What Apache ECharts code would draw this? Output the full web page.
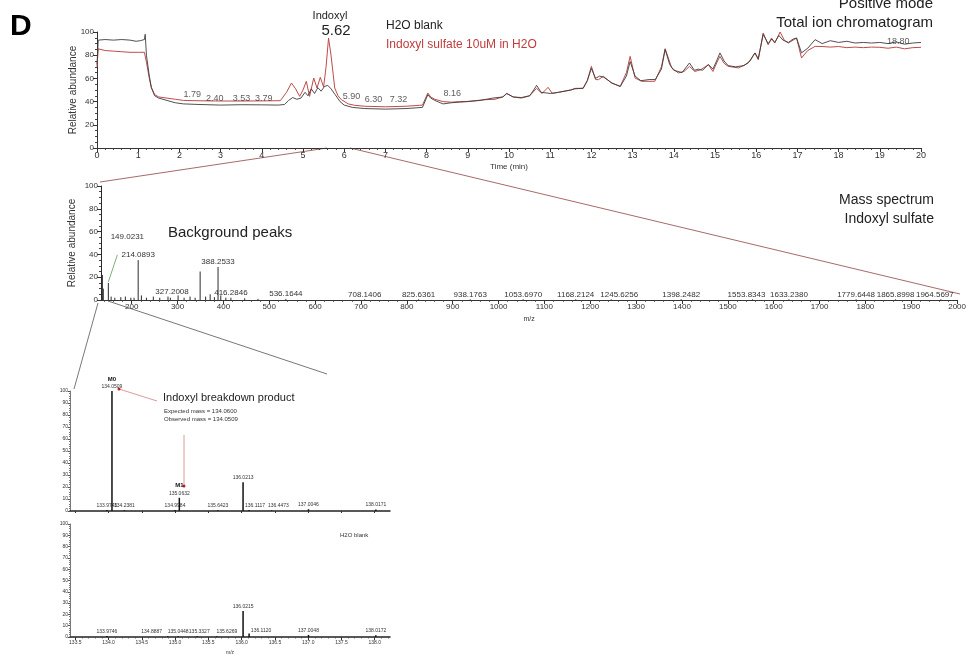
<!DOCTYPE html>
<html>
<head>
<meta charset="utf-8">
<script src="https://cdn.jsdelivr.net/npm/echarts@6/dist/echarts.min.js"></script>
<style>
  html, body { margin: 0; padding: 0; background: #fff; }
  #chart { width: 969px; height: 656px; }
</style>
</head>
<body>
<div id="chart"></div>
<script>
// ---- Total ion chromatogram: retention time (min) and relative abundance (%) ----
const blankTime = [0.00,0.03,0.20,0.40,0.60,0.80,0.95,1.05,1.15,1.17,
  1.20,1.27,1.32,1.40,1.50,1.70,1.90,2.10,2.50,3.00,
  3.50,4.00,4.40,4.55,4.65,4.75,4.85,4.95,5.05,5.12,
  5.20,5.28,5.36,5.44,5.52,5.60,5.68,5.78,5.90,6.00,
  6.20,6.50,7.00,7.50,7.90,8.03,8.10,8.20,8.40,8.60,
  8.80,9.00,9.30,9.60,9.85,9.95,10.10,10.30,10.50,10.60,
  10.67,10.78,10.90,11.00,11.20,11.50,11.60,11.80,11.90,12.00,
  12.10,12.20,12.30,12.50,12.70,12.85,12.94,13.06,13.20,13.40,
  13.55,13.70,13.79,13.90,14.00,14.10,14.20,14.38,14.50,14.60,
  14.70,14.84,14.95,15.05,15.12,15.22,15.32,15.50,15.70,15.85,
  15.97,16.05,16.17,16.29,16.38,16.45,16.55,16.65,16.78,16.90,
  16.98,17.10,17.25,17.43,17.60,17.80,18.00,18.20,18.40,18.60,
  18.80,19.00,19.20,19.40,19.60,19.80,20.00];
const blankTIC = [72,93,93.5,93,93.5,93,92,92.5,93.5,98,
  80,62,52,45,43,41,39,38,37.5,37,
  37.3,37.2,37,37.5,41,43.5,42,43,48,45,
  51,47,52,49,53,54,51,46,40,37,
  35,34,33.5,34,35,46,43,41,38,39,
  39.5,40,41,43,44,47,44,43.5,45,50,
  54,48,47.5,47,48,50,51,51.5,58,68.7,
  60,62,61,56,53,62,74.5,62,58,59,
  59,68,85,72,67,66,65,73.3,67,68,
  67,72,68,76,82,75,71,70,71,75,
  82,77,98,90,94,91,97,93,91,94,
  94.8,82,86,93.4,90,92.5,91,92,90.5,91,
  90.5,91,90,91.5,89.5,90.5,91];

const sampleTime = [0.00,0.03,0.20,0.40,0.60,0.80,1.00,1.15,1.20,1.27,
  1.32,1.40,1.50,1.70,1.90,2.10,2.50,3.00,3.50,4.00,
  4.45,4.60,4.72,4.82,4.92,5.00,5.08,5.16,5.26,5.34,
  5.42,5.50,5.56,5.62,5.68,5.77,5.85,5.93,6.10,6.25,
  6.50,7.00,7.50,7.90,8.03,8.10,8.20,8.40,8.60,8.80,
  9.00,9.40,9.66,9.85,9.94,10.10,10.30,10.50,10.67,10.80,
  10.95,11.05,11.20,11.50,11.60,11.80,11.90,12.00,12.10,12.17,
  12.29,12.49,12.70,12.85,12.94,13.06,13.22,13.54,13.70,13.79,
  13.95,14.11,14.25,14.38,14.51,14.65,14.84,14.95,15.05,15.12,
  15.22,15.32,15.57,15.80,15.97,16.05,16.17,16.29,16.37,16.45,
  16.58,16.68,16.78,16.98,17.10,17.25,17.43,17.60,17.80,18.00,
  18.20,18.40,18.60,18.80,19.00,19.20,19.40,19.60,19.80,20.00];
const sampleTIC = [70,85.5,84,83.5,83,82.5,82.5,82.5,74,60,
  52,46,44,43,42,41,40.7,40.5,40.5,40.6,
  40.8,48,56,51,44.5,50,57.5,44.5,60.3,51.7,
  60.9,52.6,70,94.8,80,51.7,45,41.7,38,36.8,
  36,35.5,36,37,47.4,44,42,40,39.5,40,
  40.2,41.6,42,44,47,44,43,45,51.4,47,
  52.3,47,48,50,51.4,51.5,58,70.4,59,58.9,
  61.8,56,53.2,65,79,60.3,57.5,57.5,70,85.6,
  69,64.7,66,70.4,66,67.4,71.8,66,74,79,
  73,70.4,69,73,81.9,76.1,99.1,89,94.8,90.5,
  100,93,90.5,94.8,77.6,84,87.6,87.5,87,87.5,
  86.5,87,86.5,87,86.8,86,87,85.5,86.5,86.8];

// retention-time annotations and where they sit on the trace (time, abundance)
const rtLabels = ['1.79','2.40','3.53','3.79','5.90','6.30','7.32','8.16','18.80'];
const rtLabelTime = [2.31, 2.86, 3.51, 4.05, 6.18, 6.71, 7.32, 8.62, 19.45];
const rtLabelAbund = [46, 43, 43, 43, 44.5, 41.7, 41.7, 46.8, 92];

// ---- Full-scan mass spectrum of indoxyl sulfate ----
const msMz = [134.0509,136.0213,138.0,149.0231,155.1,163.1,176.2,186.1,198.1,205.1,
  214.0893,221.1,232.1,247.1,261.1,279.1,284.2,301.1,314.2,327.2008,
  338.3,349.2,361.2,371.1,380.3,388.2533,394.2,405.2,416.2846,446.3,
  475.3,536.1644,708.1406,825.6361,938.1763,1053.6970,1168.2124,1245.6256,1398.2482,1553.8343,
  1633.2380,1779.6448,1865.8998,1964.5697];
const msAbund = [100,22,10,15,3,2,2.5,3,2,2,
  35,4,2,3,2,3,2,4,2,3,
  2,25,3,5,2.5,29,4,2,2,1.5,
  1,1,0.6,0.6,0.6,0.6,0.6,0.6,0.6,0.6,
  0.6,0.6,0.6,0.6];
const msLabeled = ['149.0231','214.0893','327.2008','388.2533','416.2846','536.1644','708.1406',
  '825.6361','938.1763','1053.6970','1168.2124','1245.6256','1398.2482','1553.8343',
  '1633.2380','1779.6448','1865.8998','1964.5697'];

// ---- Zoomed spectra around m/z 134 ----
const sampleMz = [133.9745,134.0509,134.2381,134.9984,135.0632,135.6423,136.0213,136.1117,136.4473,137.0046,138.0171];
const sampleAbund = [0.8,100,0.6,0.8,11,0.7,24,0.9,0.5,1.5,1.2];
const sampleIsotope = {'134.0509': 'M0', '135.0632': 'M1'};
const blankMz = [133.9746,134.8887,135.0448,135.3327,135.6269,136.0215,136.1120,137.0048,138.0172];
const blankAbund = [0.8,0.6,0.6,0.6,0.6,23,3,1.8,1.5];
const zoomTicks = [133.5,134.0,134.5,135.0,135.5,136.0,136.5,137.0,137.5,138.0];

// ---------------------------------------------------------------------------
const FONT = 'Liberation Sans, Arial, Helvetica, sans-serif';
const RED = '#bf4a4a';
const DARK = '#2b2b2b';
const CONNECT = '#a86a6a';

const fmt = (v, d) => v.toFixed(d);
const mzText = v => v.toFixed(4);

// label placement tweaks (pixel offsets) for crowded spectra
const msLabelShift = {
  '149.0231': { dx: 19, dy: -41, leader: [9, -28] },
  '327.2008': { dx: -18, dy: 0 },
  '1245.6256': { dx: 8, dy: 0 },
  '1553.8343': { dx: -6, dy: 0 },
  '1964.5697': { dx: -6, dy: 0 }
};
const blankLabelShift = {
  '134.8887': { dx: -16, dy: 0 },
  '135.3327': { dx: 2, dy: 0 },
  '135.6269': { dx: 10, dy: 0 },
  '136.1120': { dx: 12, dy: 2 }
};
const sampleLabelShift = {
  '136.1117': { dx: 6, dy: 0 },
  '136.4473': { dx: 7, dy: 0 }
};

function stickSeries(xi, yi, mz, ab, opt) {
  return {
    type: 'custom',
    xAxisIndex: xi,
    yAxisIndex: yi,
    clip: false,
    encode: { x: 0, y: 1 },
    data: mz.map((m, i) => [m, ab[i]]),
    renderItem: function (params, api) {
      const m = api.value(0), a = api.value(1);
      const base = api.coord([m, 0]);
      const top = api.coord([m, a]);
      const children = [{
        type: 'line',
        shape: { x1: base[0], y1: base[1], x2: top[0], y2: top[1] },
        style: { stroke: opt.color, lineWidth: opt.width }
      }];
      const txt = mzText(m);
      if (opt.labelAll || (opt.labeled && opt.labeled.indexOf(txt) >= 0)) {
        const sh = (opt.shift && opt.shift[txt]) || { dx: 0, dy: 0 };
        const lx = top[0] + sh.dx, ly = top[1] - opt.gap + sh.dy;
        children.push({
          type: 'text', x: lx, y: ly,
          style: { text: txt, font: opt.font, fill: opt.textColor, align: 'center', verticalAlign: 'bottom' }
        });
        if (opt.names && opt.names[txt]) {
          children.push({
            type: 'text', x: lx, y: ly - opt.nameGap,
            style: { text: opt.names[txt], font: opt.nameFont, fill: '#111', align: 'center', verticalAlign: 'bottom' }
          });
        }
        if (sh.leader) {
          children.push({
            type: 'line',
            shape: { x1: top[0] + sh.leader[0], y1: top[1] + sh.leader[1], x2: top[0], y2: top[1] - 1 },
            style: { stroke: '#5f9a5f', lineWidth: 0.8 }
          });
        }
      }
      return { type: 'group', children: children };
    }
  };
}

function range(a, b, step, skip) {
  const out = [];
  for (let v = a; v <= b + 1e-9; v += step) {
    const r = Math.round(v * 1000) / 1000;
    if (!skip || !skip(r)) out.push(r);
  }
  return out;
}

const msMajor = range(200, 2000, 100);
const msMinor = range(140, 2000, 20, v => Math.abs(v % 100) < 1e-6);
const zoomMinor = range(133.5, 138.2, 0.1, v => Math.abs(Math.round(v * 10) % 5) === 0);

const axisLineStyle = { lineStyle: { color: '#333', width: 1 } };

function minorAxis(grid, min, max, values, len) {
  return {
    gridIndex: grid, type: 'value', min: min, max: max, position: 'bottom', offset: 0,
    axisLine: { show: false, onZero: false },
    axisTick: { show: true, customValues: values, length: len, lineStyle: { color: '#444', width: 0.8 } },
    axisLabel: { show: false }, splitLine: { show: false }
  };
}

const chart = echarts.init(document.getElementById('chart'), null, { renderer: 'canvas' });

const option = {
  animation: false,
  backgroundColor: '#fff',
  textStyle: { fontFamily: FONT },
  grid: [
    { left: 97, top: 32, width: 824, height: 116 },
    { left: 101, top: 186, width: 859, height: 114 },
    { left: 70, top: 391, width: 320, height: 120 },
    { left: 70, top: 524, width: 320, height: 118 }
  ],
  xAxis: [
    { // 0: chromatogram time
      gridIndex: 0, type: 'value', min: 0, max: 20, interval: 1,
      axisLine: axisLineStyle,
      axisTick: { length: 4, lineStyle: { color: '#333' } },
      minorTick: { show: true, splitNumber: 5, length: 2, lineStyle: { color: '#444' } },
      splitLine: { show: false },
      axisLabel: { fontSize: 9, color: '#333', margin: 3 },
      name: 'Time (min)', nameLocation: 'middle', nameGap: 15,
      nameTextStyle: { fontSize: 8, color: '#333' }
    },
    { // 1: mass spectrum m/z
      gridIndex: 1, type: 'value', min: 133, max: 2000, position: 'bottom',
      axisLine: axisLineStyle,
      axisTick: { customValues: msMajor, length: 4, lineStyle: { color: '#333' } },
      axisLabel: { customValues: msMajor, formatter: v => String(v), fontSize: 8, color: '#333', margin: 3 },
      splitLine: { show: false },
      name: 'm/z', nameLocation: 'middle', nameGap: 16,
      nameTextStyle: { fontSize: 7, color: '#333' }
    },
    minorAxis(1, 133, 2000, msMinor, 2),
    { // 3: zoomed spectrum (sample)
      gridIndex: 2, type: 'value', min: 133.42, max: 138.23, position: 'bottom',
      axisLine: { lineStyle: { color: '#222', width: 1.5 } },
      axisTick: { customValues: zoomTicks, length: 2, lineStyle: { color: '#333' } },
      axisLabel: { show: false },
      splitLine: { show: false }
    },
    { // 4: zoomed spectrum (blank)
      gridIndex: 3, type: 'value', min: 133.42, max: 138.23, position: 'bottom',
      axisLine: { lineStyle: { color: '#222', width: 1.5 } },
      axisTick: { customValues: zoomTicks, length: 3, lineStyle: { color: '#333' } },
      axisLabel: { customValues: zoomTicks, formatter: v => fmt(v, 1), fontSize: 5, color: '#333', margin: 3 },
      splitLine: { show: false },
      name: 'm/z', nameLocation: 'middle', nameGap: 13,
      nameTextStyle: { fontSize: 5, color: '#333' }
    },
    minorAxis(3, 133.42, 138.23, zoomMinor, 1.5)
  ],
  yAxis: [
    { // 0: chromatogram
      gridIndex: 0, type: 'value', min: 0, max: 100, interval: 20,
      axisLine: { show: true, lineStyle: { color: '#333' } },
      axisTick: { show: true, length: 4, lineStyle: { color: '#333' } },
      minorTick: { show: true, splitNumber: 4, length: 2, lineStyle: { color: '#444' } },
      splitLine: { show: false },
      axisLabel: { fontSize: 8, color: '#333', margin: 3 },
      name: 'Relative abundance', nameLocation: 'middle', nameGap: 19, nameMoveOverlap: false,
      nameTextStyle: { fontSize: 10, color: '#333' }
    },
    { // 1: mass spectrum
      gridIndex: 1, type: 'value', min: 0, max: 100, interval: 20,
      axisLine: { show: true, lineStyle: { color: '#333' } },
      axisTick: { show: true, length: 4, lineStyle: { color: '#333' } },
      minorTick: { show: true, splitNumber: 4, length: 2, lineStyle: { color: '#444' } },
      splitLine: { show: false },
      axisLabel: { fontSize: 8, color: '#333', margin: 3 },
      name: 'Relative abundance', nameLocation: 'middle', nameGap: 24, nameMoveOverlap: false,
      nameTextStyle: { fontSize: 10, color: '#333' }
    },
    { // 2: zoomed sample
      gridIndex: 2, type: 'value', min: 0, max: 100, interval: 10,
      axisLine: { show: true, lineStyle: { color: '#555', width: 0.8 } },
      axisTick: { show: true, length: 2, lineStyle: { color: '#555' } },
      minorTick: { show: true, splitNumber: 5, length: 1, lineStyle: { color: '#777' } },
      splitLine: { show: false },
      axisLabel: { fontSize: 5, color: '#333', margin: 2 }
    },
    { // 3: zoomed blank
      gridIndex: 3, type: 'value', min: 0, max: 100, interval: 10,
      axisLine: { show: true, lineStyle: { color: '#555', width: 0.8 } },
      axisTick: { show: true, length: 2, lineStyle: { color: '#555' } },
      minorTick: { show: true, splitNumber: 5, length: 1, lineStyle: { color: '#777' } },
      splitLine: { show: false },
      axisLabel: { fontSize: 5, color: '#333', margin: 2 }
    }
  ],
  series: [
    {
      name: 'Indoxyl sulfate 10uM in H2O', type: 'line', xAxisIndex: 0, yAxisIndex: 0,
      data: sampleTime.map((t, i) => [t, sampleTIC[i]]),
      showSymbol: false, symbol: 'none', smooth: false,
      lineStyle: { color: RED, width: 1 }, z: 2
    },
    {
      name: 'H2O blank', type: 'line', xAxisIndex: 0, yAxisIndex: 0,
      data: blankTime.map((t, i) => [t, blankTIC[i]]),
      showSymbol: false, symbol: 'none', smooth: false,
      lineStyle: { color: '#3c3c3c', width: 0.9 }, z: 3
    },
    {
      type: 'scatter', xAxisIndex: 0, yAxisIndex: 0, symbolSize: 0, silent: true,
      data: rtLabels.map((s, i) => ({ value: [rtLabelTime[i], rtLabelAbund[i]], name: s })),
      label: { show: true, position: 'inside', formatter: p => p.name, fontSize: 9, color: '#333' },
      z: 4
    },
    stickSeries(1, 1, msMz, msAbund, {
      color: DARK, width: 1, gap: 1, labeled: msLabeled, shift: msLabelShift,
      font: '8px ' + FONT, textColor: '#333'
    }),
    stickSeries(3, 2, sampleMz, sampleAbund, {
      color: '#111', width: 1.5, gap: 2, labelAll: true, shift: sampleLabelShift,
      font: '5px ' + FONT, textColor: '#333',
      names: sampleIsotope, nameGap: 7, nameFont: 'bold 6px ' + FONT
    }),
    stickSeries(4, 3, blankMz, blankAbund, {
      color: '#111', width: 1.5, gap: 2, labelAll: true, shift: blankLabelShift,
      font: '5px ' + FONT, textColor: '#333'
    })
  ],
  graphic: [
    // panel letter
    { type: 'text', x: 10, y: 27, style: { text: 'D', font: 'bold 30px ' + FONT, fill: '#000', verticalAlign: 'middle' } },
    // chromatogram annotations
    { type: 'text', x: 330, y: 16, style: { text: 'Indoxyl', font: '11px ' + FONT, fill: '#222', align: 'center', verticalAlign: 'middle' } },
    { type: 'text', x: 336, y: 31, style: { text: '5.62', font: '15px ' + FONT, fill: '#222', align: 'center', verticalAlign: 'middle' } },
    { type: 'text', x: 386, y: 26, style: { text: 'H2O blank', font: '12px ' + FONT, fill: '#222', verticalAlign: 'middle' } },
    { type: 'text', x: 386, y: 45, style: { text: 'Indoxyl sulfate 10uM in H2O', font: '12px ' + FONT, fill: '#c03c3c', verticalAlign: 'middle' } },
    { type: 'text', x: 933, y: 4, style: { text: 'Positive mode', font: '15px ' + FONT, fill: '#222', align: 'right', verticalAlign: 'middle' } },
    { type: 'text', x: 933, y: 23, style: { text: 'Total ion chromatogram', font: '15px ' + FONT, fill: '#222', align: 'right', verticalAlign: 'middle' } },
    // mass spectrum annotations
    { type: 'text', x: 168, y: 233, style: { text: 'Background peaks', font: '15px ' + FONT, fill: '#222', verticalAlign: 'middle' } },
    { type: 'text', x: 934, y: 200, style: { text: 'Mass spectrum', font: '14px ' + FONT, fill: '#222', align: 'right', verticalAlign: 'middle' } },
    { type: 'text', x: 934, y: 219, style: { text: 'Indoxyl sulfate', font: '14px ' + FONT, fill: '#222', align: 'right', verticalAlign: 'middle' } },
    // zoom connectors
    { type: 'line', shape: { x1: 327, y1: 148, x2: 100, y2: 182 }, style: { stroke: CONNECT, lineWidth: 1 } },
    { type: 'line', shape: { x1: 350, y1: 148, x2: 960, y2: 294 }, style: { stroke: CONNECT, lineWidth: 1 } },
    { type: 'line', shape: { x1: 98, y1: 303, x2: 74, y2: 389 }, style: { stroke: '#555', lineWidth: 0.8 } },
    { type: 'line', shape: { x1: 108, y1: 301, x2: 327, y2: 374 }, style: { stroke: '#555', lineWidth: 0.8 } },
    // zoomed spectrum annotations
    { type: 'text', x: 163, y: 398, style: { text: 'Indoxyl breakdown product', font: '11px ' + FONT, fill: '#222', verticalAlign: 'middle' } },
    { type: 'text', x: 164, y: 411, style: { text: 'Expected mass = 134.0600', font: '6px ' + FONT, fill: '#333', verticalAlign: 'middle' } },
    { type: 'text', x: 164, y: 419, style: { text: 'Observed mass = 134.0509', font: '6px ' + FONT, fill: '#333', verticalAlign: 'middle' } },
    { type: 'line', shape: { x1: 157, y1: 401, x2: 119, y2: 389 }, style: { stroke: '#d08080', lineWidth: 0.8 } },
    { type: 'circle', shape: { cx: 119, cy: 389, r: 1.5 }, style: { fill: '#c02020' } },
    { type: 'line', shape: { x1: 184, y1: 435, x2: 184, y2: 485 }, style: { stroke: '#d08080', lineWidth: 0.8 } },
    { type: 'circle', shape: { cx: 184, cy: 486, r: 1.5 }, style: { fill: '#c02020' } },
    { type: 'text', x: 340, y: 535, style: { text: 'H2O blank', font: '6px ' + FONT, fill: '#333', verticalAlign: 'middle' } }
  ]
};

chart.setOption(option);
</script>
</body>
</html>
